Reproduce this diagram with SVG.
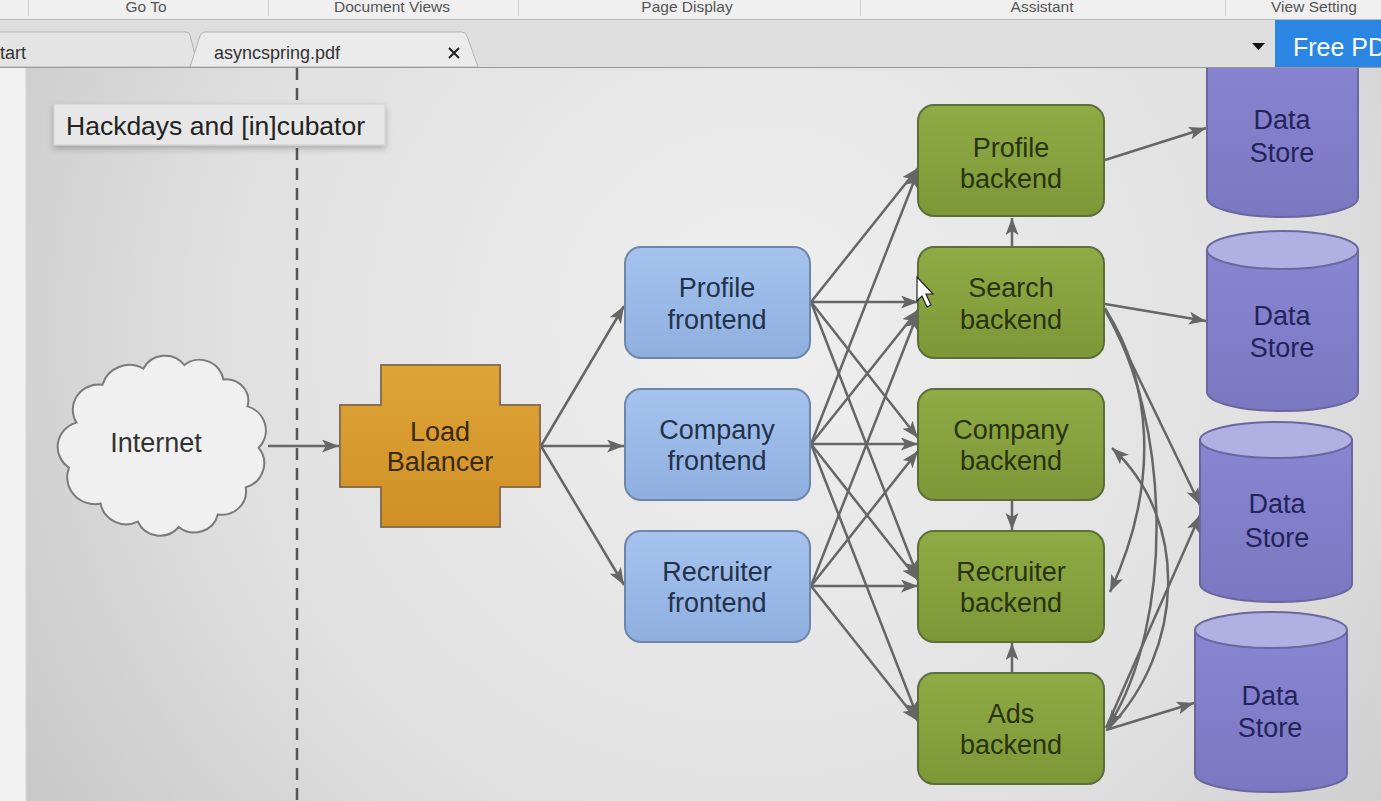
<svg xmlns="http://www.w3.org/2000/svg" width="1381" height="801" viewBox="0 0 1381 801">
<defs>
  <radialGradient id="bg" cx="760" cy="330" r="900" gradientUnits="userSpaceOnUse">
    <stop offset="0" stop-color="#efefef"/>
    <stop offset="0.6" stop-color="#e0e0e0"/>
    <stop offset="1" stop-color="#c6c6c6"/>
  </radialGradient>
  <linearGradient id="fe" x1="0" y1="0" x2="0" y2="1">
    <stop offset="0" stop-color="#a6c3ee"/>
    <stop offset="1" stop-color="#8fafe0"/>
  </linearGradient>
  <linearGradient id="be" x1="0" y1="0" x2="0" y2="1">
    <stop offset="0" stop-color="#8eab45"/>
    <stop offset="1" stop-color="#7e9737"/>
  </linearGradient>
  <linearGradient id="lb" x1="0" y1="0" x2="0" y2="1">
    <stop offset="0" stop-color="#dea437"/>
    <stop offset="1" stop-color="#cf9026"/>
  </linearGradient>
  <linearGradient id="ds" x1="0" y1="0" x2="0" y2="1">
    <stop offset="0" stop-color="#8985d2"/>
    <stop offset="1" stop-color="#7b77c0"/>
  </linearGradient>
  <filter id="sh" x="-10%" y="-30%" width="120%" height="170%">
    <feDropShadow dx="0" dy="3" stdDeviation="3" flood-color="#000" flood-opacity="0.25"/>
  </filter>
  <marker id="ah" markerUnits="userSpaceOnUse" markerWidth="18" markerHeight="14" refX="17" refY="6.5" orient="auto-start-reverse">
    <path d="M0,0 L17,6.5 L0,13 L4,6.5 Z" fill="#666"/>
  </marker>
  <style>
    .ui { font-family: "Liberation Sans", Arial, sans-serif; fill: #555; font-size: 15.5px; text-anchor: middle; }
    .tab { font-family: "Liberation Sans", Arial, sans-serif; fill: #333; font-size: 18px; }
    .lbl { font-family: "Liberation Sans", Arial, sans-serif; font-size: 27px; text-anchor: middle; }
    .fe rect { fill: url(#fe); stroke: #6f86ab; stroke-width: 2; }
    .fe text { fill: #22324a; }
    .be rect { fill: url(#be); stroke: #5c6e3a; stroke-width: 2; }
    .be text { fill: #29330f; }
    .ds .body { fill: url(#ds); stroke: #6a679f; stroke-width: 2; }
    .ds .top { fill: #b2afe2; stroke: #6a679f; stroke-width: 2; }
    .ds text { fill: #23245a; }
    .cn path, .cn line { fill: none; stroke: #666; stroke-width: 2.5; marker-end: url(#ah); }
  </style>
</defs>

<!-- slide background -->
<rect x="0" y="0" width="1381" height="801" fill="url(#bg)"/>
<rect x="0" y="67" width="26" height="734" fill="#f1f1f1"/>
<line x1="26" y1="67" x2="26" y2="801" stroke="#d6d6d6" stroke-width="1"/>

<!-- dashed boundary -->
<line x1="297" y1="68" x2="297" y2="801" stroke="#555" stroke-width="2.5" stroke-dasharray="12,8"/>

<!-- connectors -->
<g id="connectors" class="cn">
  <line x1="268" y1="446" x2="339" y2="446"/>
  <line x1="541" y1="446" x2="624" y2="306"/>
  <line x1="541" y1="446" x2="624" y2="446"/>
  <line x1="541" y1="446" x2="624" y2="585"/>

  <line x1="811" y1="302" x2="918" y2="168"/>
  <line x1="811" y1="302" x2="918" y2="302"/>
  <line x1="811" y1="302" x2="918" y2="438"/>
  <line x1="811" y1="302" x2="918" y2="577"/>

  <line x1="811" y1="444" x2="918" y2="171"/>
  <line x1="811" y1="444" x2="918" y2="310"/>
  <line x1="811" y1="444" x2="918" y2="444"/>
  <line x1="811" y1="444" x2="918" y2="580"/>
  <line x1="811" y1="444" x2="918" y2="718"/>

  <line x1="811" y1="586" x2="918" y2="313"/>
  <line x1="811" y1="586" x2="918" y2="451"/>
  <line x1="811" y1="586" x2="918" y2="586"/>
  <line x1="811" y1="586" x2="918" y2="721"/>

  <line x1="1012" y1="247" x2="1012" y2="218"/>
  <line x1="1012" y1="500" x2="1012" y2="530"/>
  <line x1="1012" y1="673" x2="1012" y2="643"/>

  <line x1="1105" y1="160" x2="1206" y2="128"/>
  <line x1="1105" y1="304" x2="1206" y2="321"/>
  <line x1="1105" y1="308" x2="1200" y2="505"/>
  <line x1="1106" y1="728" x2="1200" y2="515"/>
  <line x1="1106" y1="730" x2="1194" y2="703"/>
  <path d="M1106,310 C1150,380 1162,480 1110,592"/>
  <path d="M1106,312 C1170,420 1176,620 1108,727"/>
  <path d="M1108,729 C1185,650 1190,520 1112,448"/>
</g>

<!-- label box -->
<g id="label">
  <rect x="54" y="104" width="331" height="41" fill="#e7e7e7" stroke="#cfcfcf" stroke-width="1" filter="url(#sh)"/>
  <text x="66" y="135" font-family="Liberation Sans, Arial, sans-serif" font-size="26.5" fill="#222">Hackdays and [in]cubator</text>
</g>

<!-- Internet cloud -->
<g id="internet">
  <path transform="translate(162,446) scale(0.93,0.9) translate(-162,-446)" vector-effect="non-scaling-stroke" d="M70,420 A28,28 0 0,1 98,378 A30,30 0 0,1 142,360 A26,26 0 0,1 186,356 A26,26 0 0,1 228,372 A24,24 0 0,1 254,402 A28,28 0 0,1 266,448 A28,28 0 0,1 252,492 A26,26 0 0,1 222,522 A26,26 0 0,1 180,536 A26,26 0 0,1 136,530 A28,28 0 0,1 96,510 A30,30 0 0,1 62,470 A28,28 0 0,1 70,420 Z" fill="#f0f0f0" stroke="#7a7a7a" stroke-width="2"/>
  <text class="lbl" x="156" y="452" fill="#333">Internet</text>
</g>

<!-- Load balancer -->
<g id="loadbalancer">
  <polygon points="381,365 500,365 500,405 540,405 540,487 500,487 500,527 381,527 381,487 340,487 340,405 381,405" fill="url(#lb)" stroke="#8a7050" stroke-width="2"/>
  <text class="lbl" x="440" y="441" fill="#3a2a10">Load</text>
  <text class="lbl" x="440" y="471" fill="#3a2a10">Balancer</text>
</g>

<!-- Frontends -->
<g id="profile-frontend" class="fe">
  <rect x="625" y="247" width="185" height="111" rx="16"/>
  <text class="lbl" x="717" y="297">Profile</text>
  <text class="lbl" x="717" y="329">frontend</text>
</g>
<g id="company-frontend" class="fe">
  <rect x="625" y="389" width="185" height="111" rx="16"/>
  <text class="lbl" x="717" y="439">Company</text>
  <text class="lbl" x="717" y="470">frontend</text>
</g>
<g id="recruiter-frontend" class="fe">
  <rect x="625" y="531" width="185" height="111" rx="16"/>
  <text class="lbl" x="717" y="581">Recruiter</text>
  <text class="lbl" x="717" y="612">frontend</text>
</g>

<!-- Backends -->
<g id="profile-backend" class="be">
  <rect x="918" y="105" width="186" height="111" rx="16"/>
  <text class="lbl" x="1011" y="157">Profile</text>
  <text class="lbl" x="1011" y="188">backend</text>
</g>
<g id="search-backend" class="be">
  <rect x="918" y="247" width="186" height="111" rx="16"/>
  <text class="lbl" x="1011" y="297">Search</text>
  <text class="lbl" x="1011" y="329">backend</text>
</g>
<g id="company-backend" class="be">
  <rect x="918" y="389" width="186" height="111" rx="16"/>
  <text class="lbl" x="1011" y="439">Company</text>
  <text class="lbl" x="1011" y="470">backend</text>
</g>
<g id="recruiter-backend" class="be">
  <rect x="918" y="531" width="186" height="111" rx="16"/>
  <text class="lbl" x="1011" y="581">Recruiter</text>
  <text class="lbl" x="1011" y="612">backend</text>
</g>
<g id="ads-backend" class="be">
  <rect x="918" y="673" width="186" height="111" rx="16"/>
  <text class="lbl" x="1011" y="723">Ads</text>
  <text class="lbl" x="1011" y="754">backend</text>
</g>

<!-- Data stores -->
<g id="datastore-1" class="ds">
  <path class="body" d="M1207,50 L1207,198 A75.5,19 0 0,0 1358,198 L1358,50 Z"/>
  <text class="lbl" x="1282" y="129">Data</text>
  <text class="lbl" x="1282" y="162">Store</text>
</g>
<g id="datastore-2" class="ds">
  <path class="body" d="M1207,250 L1207,392 A75.5,19 0 0,0 1358,392 L1358,250 Z"/>
  <ellipse class="top" cx="1282.5" cy="250" rx="75.5" ry="19"/>
  <text class="lbl" x="1282" y="325">Data</text>
  <text class="lbl" x="1282" y="357">Store</text>
</g>
<g id="datastore-3" class="ds">
  <path class="body" d="M1200,440 L1200,584 A76,18 0 0,0 1352,584 L1352,440 Z"/>
  <ellipse class="top" cx="1276" cy="440" rx="76" ry="18"/>
  <text class="lbl" x="1277" y="513">Data</text>
  <text class="lbl" x="1277" y="547">Store</text>
</g>
<g id="datastore-4" class="ds">
  <path class="body" d="M1195,630 L1195,774 A76,18 0 0,0 1347,774 L1347,630 Z"/>
  <ellipse class="top" cx="1271" cy="630" rx="76" ry="18"/>
  <text class="lbl" x="1270" y="705">Data</text>
  <text class="lbl" x="1270" y="737">Store</text>
</g>

<!-- mouse pointer -->
<polygon points="917,277 917,301 922,296 927,307 931,305 926,294 933,294" fill="#fff" stroke="#222" stroke-width="1.2"/>

<!-- viewer chrome -->
<rect x="0" y="0" width="1381" height="20" fill="#f0f0f0"/>
<line x1="0" y1="19.5" x2="1381" y2="19.5" stroke="#b8b8b8" stroke-width="1"/>
<g stroke="#cfcfcf" stroke-width="1">
  <line x1="28.5" y1="0" x2="28.5" y2="16"/>
  <line x1="268.5" y1="0" x2="268.5" y2="16"/>
  <line x1="518.5" y1="0" x2="518.5" y2="16"/>
  <line x1="860.5" y1="0" x2="860.5" y2="16"/>
  <line x1="1225.5" y1="0" x2="1225.5" y2="16"/>
</g>
<text class="ui" x="146" y="12">Go To</text>
<text class="ui" x="392" y="12">Document Views</text>
<text class="ui" x="687" y="12">Page Display</text>
<text class="ui" x="1042" y="12">Assistant</text>
<text class="ui" x="1314" y="12">View Setting</text>

<rect x="0" y="20" width="1381" height="47" fill="#dedede"/>
<path d="M-5,67 L-5,32 L186,32 Q189,32 190,35 L198,67 Z" fill="#e4e4e4" stroke="#b4b4b4" stroke-width="1"/>
<path d="M190,67 L200,36 Q201,32 205,32 L462,32 Q466,32 467,36 L478,67 Z" fill="#ebebeb" stroke="#b4b4b4" stroke-width="1"/>
<text class="tab" x="0" y="59">tart</text>
<text class="tab" x="214" y="59">asyncspring.pdf</text>
<path d="M449,48 L459,58 M459,48 L449,58" stroke="#222" stroke-width="2"/>
<polygon points="1252,43 1265,43 1258.5,50" fill="#111"/>
<rect x="1275" y="20" width="106" height="47" fill="#2b86e3"/>
<text x="1293" y="56" font-family="Liberation Sans, Arial, sans-serif" font-size="25" fill="#fff">Free PDF</text>
<line x1="0" y1="67.5" x2="1381" y2="67.5" stroke="#9a9a9a" stroke-width="1.2"/>
</svg>
